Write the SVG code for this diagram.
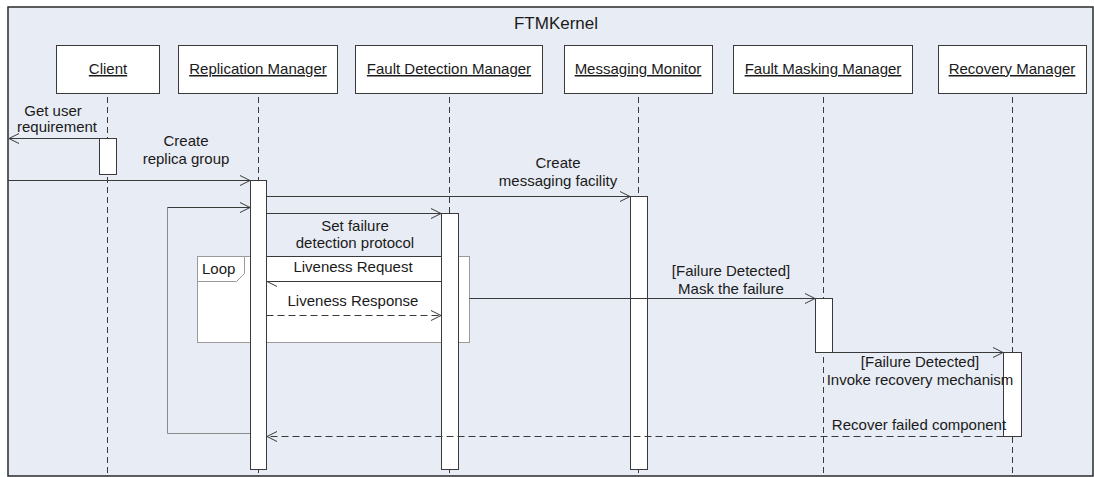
<svg xmlns="http://www.w3.org/2000/svg" width="1094" height="477" viewBox="0 0 1094 477">
  <defs>
    <style>
      text { font-family: "Liberation Sans", Arial, sans-serif; font-size: 15px; fill: #1a1a1a; }
      .title { font-size: 17px; }
      .head rect { fill: #ffffff; stroke: #3a3a3a; stroke-width: 1; }
      .head text { text-decoration: underline; text-anchor: middle; }
      .life { stroke: #3a3a3a; stroke-width: 1; stroke-dasharray: 6 4; fill: none; }
      .act { fill: #ffffff; stroke: #3a3a3a; stroke-width: 1; }
      .msg { stroke: #3a3a3a; stroke-width: 1; fill: none; marker-end: url(#open); }
      .ret { stroke: #3a3a3a; stroke-width: 1; fill: none; stroke-dasharray: 7 4; marker-end: url(#open); }
      .lbl { text-anchor: middle; }
      .frag { fill: #ffffff; stroke: #9a9a9a; stroke-width: 1; }
    </style>
    <marker id="open" viewBox="0 0 12 12" refX="11" refY="6" markerWidth="12" markerHeight="12" markerUnits="userSpaceOnUse" orient="auto">
      <path d="M1,1 L11,6 L1,11" fill="none" stroke="#3a3a3a" stroke-width="1"/>
    </marker>
    <!-- single-barb head, used where the label box hides the other barb -->
    <marker id="half" viewBox="0 0 12 12" refX="11" refY="6" markerWidth="12" markerHeight="12" markerUnits="userSpaceOnUse" orient="auto">
      <path d="M1,1 L11,6" fill="none" stroke="#3a3a3a" stroke-width="1"/>
    </marker>
  </defs>

  <!-- enclosing FTMKernel frame -->
  <rect x="0" y="0" width="1094" height="477" fill="#ffffff"/>
  <rect x="8" y="7" width="1085" height="469" fill="#e8ecf4" stroke="#2a2a2a" stroke-width="1.5"/>
  <text class="title" x="556" y="29" text-anchor="middle">FTMKernel</text>

  <!-- lifelines -->
  <g id="lifelines">
    <line class="life" x1="107.5" y1="97" x2="107.5" y2="476"/>
    <line class="life" x1="258.5" y1="97" x2="258.5" y2="476"/>
    <line class="life" x1="449.5" y1="97" x2="449.5" y2="476"/>
    <line class="life" x1="638.5" y1="97" x2="638.5" y2="476"/>
    <line class="life" x1="823.5" y1="97" x2="823.5" y2="476"/>
    <line class="life" x1="1012.5" y1="97" x2="1012.5" y2="476"/>
  </g>

  <!-- participant heads -->
  <g id="client" class="head">
    <rect x="56.5" y="45.5" width="103" height="48"/>
    <text x="108" y="74">Client</text>
  </g>
  <g id="replication-manager" class="head">
    <rect x="178.5" y="45.5" width="159" height="48"/>
    <text x="258" y="74">Replication Manager</text>
  </g>
  <g id="fault-detection-manager" class="head">
    <rect x="355.5" y="45.5" width="187" height="48"/>
    <text x="449" y="74">Fault Detection Manager</text>
  </g>
  <g id="messaging-monitor" class="head">
    <rect x="564.5" y="45.5" width="148" height="48"/>
    <text x="638" y="74">Messaging Monitor</text>
  </g>
  <g id="fault-masking-manager" class="head">
    <rect x="733.5" y="45.5" width="179" height="48"/>
    <text x="823" y="74">Fault Masking Manager</text>
  </g>
  <g id="recovery-manager" class="head">
    <rect x="938.5" y="45.5" width="148" height="48"/>
    <text x="1012" y="74">Recovery Manager</text>
  </g>

  <!-- self-loop on the replication manager -->
  <g id="loop-return">
    <polyline points="250,433.5 167.5,433.5 167.5,207.5" fill="none" stroke="#8a8a8a" stroke-width="1"/>
    <line class="msg" x1="167.5" y1="207.5" x2="250" y2="207.5"/>
  </g>

  <!-- Loop combined fragment -->
  <g id="loop-fragment">
    <rect class="frag" x="197.5" y="256.5" width="272" height="86"/>
    <path d="M197.5,256.5 H244.5 V273.5 L236.5,281.5 H197.5 Z" fill="#ffffff" stroke="#9a9a9a" stroke-width="1"/>
    <text x="202" y="274">Loop</text>
    <line x1="266" y1="256.5" x2="441" y2="256.5" stroke="#3a3a3a" stroke-width="1"/>
  </g>

  <!-- activation bars -->
  <g id="activations">
    <rect class="act" x="99.5" y="138.5" width="17" height="36"/>
    <rect class="act" x="250.5" y="180.5" width="16" height="289"/>
    <rect class="act" x="441.5" y="213.5" width="17" height="256"/>
    <rect class="act" x="630.5" y="196.5" width="17" height="273"/>
    <rect class="act" x="815.5" y="298.5" width="17" height="54"/>
    <rect class="act" x="1003.5" y="352.5" width="18" height="84"/>
  </g>

  <!-- messages -->
  <g id="connectors">
    <line class="msg" x1="99.5" y1="138.5" x2="9" y2="138.5"/>
    <line class="msg" x1="8" y1="180.5" x2="250" y2="180.5"/>
    <line class="msg" x1="266.5" y1="196.5" x2="630" y2="196.5"/>
    <line class="msg" x1="266.5" y1="213.5" x2="441" y2="213.5"/>
    <line x1="441.5" y1="281.5" x2="267" y2="281.5" stroke="#3a3a3a" stroke-width="1" marker-end="url(#half)"/>
    <line class="ret" x1="266.5" y1="315.5" x2="441" y2="315.5"/>
    <line class="msg" x1="469.5" y1="298.5" x2="815" y2="298.5"/>
    <line class="msg" x1="832.5" y1="352.5" x2="1003" y2="352.5"/>
    <line class="ret" x1="1003.5" y1="436.5" x2="267" y2="436.5"/>
  </g>

  <!-- message labels -->
  <g id="labels">
    <text class="lbl" x="53" y="116">Get user</text>
    <text class="lbl" x="57" y="132">requirement</text>
    <text class="lbl" x="186" y="146">Create</text>
    <text class="lbl" x="186" y="164">replica group</text>
    <text class="lbl" x="558" y="168">Create</text>
    <text class="lbl" x="558" y="186">messaging facility</text>
    <text class="lbl" x="355" y="231">Set failure</text>
    <text class="lbl" x="355" y="248">detection protocol</text>
    <text class="lbl" x="353" y="272">Liveness Request</text>
    <text class="lbl" x="353" y="306">Liveness Response</text>
    <text class="lbl" x="731" y="276">[Failure Detected]</text>
    <text class="lbl" x="731" y="294">Mask the failure</text>
    <text class="lbl" x="920" y="367">[Failure Detected]</text>
    <text class="lbl" x="920" y="385">Invoke recovery mechanism</text>
    <text class="lbl" x="919" y="430">Recover failed component</text>
  </g>
</svg>
